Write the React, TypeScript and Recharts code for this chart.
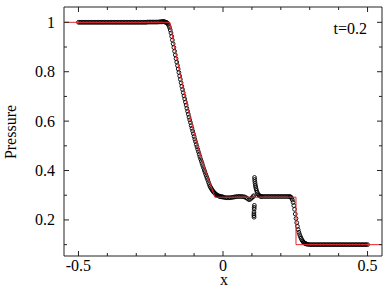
import { Scatter, ScatterChart, XAxis, YAxis } from "recharts";

const SERIF = "'Liberation Serif', 'DejaVu Serif', serif";
const FRAME = "#222";
const RED = "#e8262c";
const X_DOMAIN: [number, number] = [-0.55, 0.55];
const Y_DOMAIN: [number, number] = [0.054, 1.062];

const xMajorTicks = [-0.5, 0, 0.5];
const xMinorTicks = [-0.5, -0.4, -0.3, -0.2, -0.1, 0, 0.1, 0.2, 0.3, 0.4, 0.5];
const yMajorTicks = [0.2, 0.4, 0.6, 0.8, 1];
const yMinorTicks = [0.1, 0.2, 0.3, 0.4, 0.5, 0.6, 0.7, 0.8, 0.9, 1];

// exact Riemann solution (red line)
const exactSolution: [number, number][] = [
  [-0.55, 1], [-0.184, 1], [-0.168, 0.902], [-0.152, 0.81], [-0.136, 0.724],
  [-0.12, 0.644], [-0.104, 0.571], [-0.088, 0.503], [-0.072, 0.441],
  [-0.056, 0.385], [-0.042, 0.339], [-0.028, 0.292], [0.2525, 0.292],
  [0.2525, 0.1], [0.55, 0.1],
];

// numerical result (circles), split by region
const leftState: [number, number][] = [
  [-0.5, 1], [-0.495, 1], [-0.49, 1], [-0.485, 1], [-0.48, 1], [-0.475, 1],
  [-0.47, 1], [-0.465, 1], [-0.46, 1], [-0.455, 1], [-0.45, 1], [-0.445, 1],
  [-0.44, 1], [-0.435, 1], [-0.43, 1], [-0.425, 1], [-0.42, 1], [-0.415, 1],
  [-0.41, 1], [-0.405, 1], [-0.4, 1], [-0.395, 1], [-0.39, 1], [-0.385, 1],
  [-0.38, 1], [-0.375, 1], [-0.37, 1], [-0.365, 1], [-0.36, 1], [-0.355, 1],
  [-0.35, 1], [-0.345, 1], [-0.34, 1], [-0.335, 1], [-0.33, 1], [-0.325, 1],
  [-0.32, 1], [-0.315, 1], [-0.31, 1], [-0.305, 1], [-0.3, 1], [-0.295, 1],
  [-0.29, 1], [-0.285, 1], [-0.28, 1], [-0.275, 1], [-0.27, 1], [-0.265, 1],
  [-0.26, 1.001], [-0.255, 1.001], [-0.25, 1.001], [-0.245, 1.001], [-0.24, 1.001],
  [-0.235, 1.001], [-0.23, 1.001], [-0.225, 1.001], [-0.22, 1.002], [-0.215, 1.002],
];

const rarefaction: [number, number][] = [
  [-0.2125, 1.002], [-0.21, 1.002], [-0.2075, 1.003], [-0.205, 1.003],
  [-0.2025, 1.002], [-0.2, 1.001], [-0.1975, 1.0], [-0.195, 0.999],
  [-0.1925, 0.997], [-0.19, 0.993], [-0.1875, 0.987], [-0.185, 0.979],
  [-0.1825, 0.969], [-0.18, 0.957], [-0.1775, 0.943], [-0.175, 0.928],
  [-0.1725, 0.913], [-0.17, 0.898], [-0.1675, 0.883], [-0.165, 0.868],
  [-0.1625, 0.853], [-0.16, 0.839], [-0.1575, 0.825], [-0.155, 0.811],
  [-0.1525, 0.797], [-0.15, 0.783], [-0.1475, 0.769], [-0.145, 0.755],
  [-0.1425, 0.741], [-0.14, 0.728], [-0.1375, 0.715], [-0.135, 0.702],
  [-0.1325, 0.69], [-0.13, 0.677], [-0.1275, 0.665], [-0.125, 0.652],
  [-0.1225, 0.64], [-0.12, 0.628], [-0.1175, 0.616], [-0.115, 0.605],
  [-0.1125, 0.594], [-0.11, 0.582], [-0.1075, 0.571], [-0.105, 0.56],
  [-0.1025, 0.549], [-0.1, 0.538], [-0.0975, 0.527], [-0.095, 0.517],
  [-0.0925, 0.506], [-0.09, 0.496], [-0.0875, 0.486], [-0.085, 0.476],
  [-0.0825, 0.466], [-0.08, 0.456], [-0.0775, 0.447], [-0.075, 0.438],
  [-0.0725, 0.429], [-0.07, 0.42], [-0.0675, 0.411], [-0.065, 0.402],
  [-0.0625, 0.394], [-0.06, 0.385], [-0.0575, 0.377], [-0.055, 0.369],
  [-0.0525, 0.361], [-0.05, 0.352], [-0.0475, 0.344], [-0.045, 0.336],
  [-0.0425, 0.331], [-0.04, 0.326], [-0.0375, 0.321], [-0.035, 0.317],
  [-0.0325, 0.313], [-0.03, 0.31], [-0.0275, 0.307], [-0.025, 0.304],
  [-0.0225, 0.302], [-0.02, 0.3], [-0.0175, 0.298], [-0.015, 0.297],
  [-0.0125, 0.296], [-0.01, 0.295], [-0.0075, 0.294], [-0.005, 0.294],
  [-0.0025, 0.293],
];

const plateau: [number, number][] = [
  [0, 0.293], [0.005, 0.291], [0.01, 0.29], [0.015, 0.29], [0.02, 0.29],
  [0.025, 0.29], [0.03, 0.291], [0.035, 0.292], [0.04, 0.293], [0.045, 0.294],
  [0.05, 0.295], [0.055, 0.295], [0.06, 0.295], [0.065, 0.295], [0.07, 0.294],
  [0.075, 0.293], [0.08, 0.29], [0.085, 0.286], [0.09, 0.282], [0.095, 0.284],
  [0.1, 0.29], [0.1045, 0.294],
];

const contact: [number, number][] = [
  [0.106, 0.298], [0.109, 0.372], [0.1095, 0.364], [0.11, 0.356], [0.111, 0.348],
  [0.112, 0.34], [0.113, 0.333], [0.1145, 0.326], [0.116, 0.319], [0.118, 0.312],
  [0.12, 0.306], [0.123, 0.301], [0.126, 0.298], [0.129, 0.296], [0.132, 0.295],
  [0.1085, 0.259], [0.108, 0.251], [0.1078, 0.244], [0.1072, 0.232], [0.107, 0.224],
  [0.107, 0.217], [0.1075, 0.211],
];

const postShock: [number, number][] = [
  [0.135, 0.295], [0.14, 0.295], [0.145, 0.295], [0.15, 0.295], [0.155, 0.295],
  [0.16, 0.295], [0.165, 0.295], [0.17, 0.295], [0.175, 0.295], [0.18, 0.295],
  [0.185, 0.295], [0.19, 0.295], [0.195, 0.295], [0.2, 0.295], [0.205, 0.295],
  [0.21, 0.295], [0.215, 0.295], [0.22, 0.295], [0.225, 0.295], [0.23, 0.295],
];

const shockFront: [number, number][] = [
  [0.2325, 0.294], [0.235, 0.292], [0.2375, 0.288], [0.24, 0.281], [0.2425, 0.271],
  [0.245, 0.258], [0.2475, 0.243], [0.25, 0.224], [0.2525, 0.206], [0.255, 0.189],
  [0.2575, 0.174], [0.26, 0.161], [0.2625, 0.15], [0.265, 0.141], [0.2675, 0.133],
  [0.27, 0.126], [0.2725, 0.12], [0.275, 0.115], [0.2775, 0.111], [0.28, 0.108],
  [0.2825, 0.106], [0.285, 0.104], [0.2875, 0.103], [0.29, 0.102], [0.295, 0.101],
];

const rightState: [number, number][] = [
  [0.3, 0.1], [0.305, 0.1], [0.31, 0.1], [0.315, 0.1], [0.32, 0.1], [0.325, 0.1],
  [0.33, 0.1], [0.335, 0.1], [0.34, 0.1], [0.345, 0.1], [0.35, 0.1], [0.355, 0.1],
  [0.36, 0.1], [0.365, 0.1], [0.37, 0.1], [0.375, 0.1], [0.38, 0.1], [0.385, 0.1],
  [0.39, 0.1], [0.395, 0.1], [0.4, 0.1], [0.405, 0.1], [0.41, 0.1], [0.415, 0.1],
  [0.42, 0.1], [0.425, 0.1], [0.43, 0.1], [0.435, 0.1], [0.44, 0.1], [0.445, 0.1],
  [0.45, 0.1], [0.455, 0.1], [0.46, 0.1], [0.465, 0.1], [0.47, 0.1], [0.475, 0.1],
  [0.48, 0.1], [0.485, 0.1], [0.49, 0.1], [0.495, 0.1], [0.5, 0.1],
];

const toPoints = (rows: [number, number][]) => rows.map(([x, p]) => ({ x, p }));

const numericPoints = toPoints([
  ...leftState,
  ...rarefaction,
  ...plateau,
  ...contact,
  ...postShock,
  ...shockFront,
  ...rightState,
]);
const exactPoints = toPoints(exactSolution);

const ring = (props: any) => (
  <circle cx={props.cx} cy={props.cy} r={1.9} fill="none" stroke="#000" strokeWidth={0.9} />
);
const noMark = () => <g />;

const MAJOR_LEN = 5;
const MINOR_LEN = 3;
const isMajor = (v: number, majors: number[]) => majors.some((m) => Math.abs(m - v) < 1e-9);
const labelProps = { fill: "#000", fontSize: 16, fontFamily: SERIF };

// inward tick marks drawn by each axis's own tick renderer
const BottomTick = ({ x, y, payload }: any) => {
  const major = isMajor(payload.value, xMajorTicks);
  return (
    <g>
      <line x1={x} x2={x} y1={y} y2={y - (major ? MAJOR_LEN : MINOR_LEN)} stroke={FRAME} />
      {major && (
        <text x={x} y={y + 15} textAnchor="middle" {...labelProps}>
          {payload.value}
        </text>
      )}
    </g>
  );
};

const TopTick = ({ x, y, payload }: any) => {
  const major = isMajor(payload.value, xMajorTicks);
  return <line x1={x} x2={x} y1={y} y2={y + (major ? MAJOR_LEN : MINOR_LEN)} stroke={FRAME} />;
};

const LeftTick = ({ x, y, payload }: any) => {
  const major = isMajor(payload.value, yMajorTicks);
  return (
    <g>
      <line x1={x} x2={x + (major ? MAJOR_LEN : MINOR_LEN)} y1={y} y2={y} stroke={FRAME} />
      {major && (
        <text x={x - 9} y={y + 5.5} textAnchor="end" {...labelProps}>
          {payload.value}
        </text>
      )}
    </g>
  );
};

const RightTick = ({ x, y, payload }: any) => {
  const major = isMajor(payload.value, yMajorTicks);
  return <line x1={x} x2={x - (major ? MAJOR_LEN : MINOR_LEN)} y1={y} y2={y} stroke={FRAME} />;
};

const textStyle: React.CSSProperties = {
  position: "absolute",
  fontFamily: SERIF,
  fontSize: 16,
  lineHeight: "16px",
  color: "#000",
  whiteSpace: "nowrap",
};

const axisCommon = {
  type: "number" as const,
  allowDataOverflow: true,
  interval: 0 as const,
  tickLine: false,
  tickSize: 0,
  tickMargin: 0,
  axisLine: { stroke: FRAME },
};

export default function App() {
  return (
    <div
      style={{
        position: "absolute",
        left: 0,
        top: 0,
        width: 390,
        height: 293,
        background: "#fff",
      }}
    >
      <ScatterChart width={390} height={293} margin={{ top: 0, right: 0, bottom: 0, left: 0 }}>
        <XAxis {...axisCommon} xAxisId="x" dataKey="x" domain={X_DOMAIN} orientation="bottom" height={37} ticks={xMinorTicks} tick={BottomTick} />
        <XAxis {...axisCommon} xAxisId="xt" dataKey="x" domain={X_DOMAIN} orientation="top" height={7} ticks={xMinorTicks} tick={TopTick} />
        <YAxis {...axisCommon} yAxisId="y" dataKey="p" domain={Y_DOMAIN} orientation="left" width={64} ticks={yMinorTicks} tick={LeftTick} />
        <YAxis {...axisCommon} yAxisId="yr" dataKey="p" domain={Y_DOMAIN} orientation="right" width={8} ticks={yMinorTicks} tick={RightTick} />

        {/* keeps the top and right frame axes bound to a series */}
        <Scatter xAxisId="xt" yAxisId="yr" data={exactPoints} shape={noMark} isAnimationActive={false} />

        <Scatter
          xAxisId="x"
          yAxisId="y"
          data={numericPoints}
          shape={ring}
          isAnimationActive={false}
        />
        <Scatter
          xAxisId="x"
          yAxisId="y"
          data={exactPoints}
          line={{ stroke: RED, strokeWidth: 1 }}
          lineType="joint"
          shape={noMark}
          isAnimationActive={false}
        />
      </ScatterChart>
      <div style={{ ...textStyle, top: 21, left: 0, width: 367, textAlign: "right" }}>t=0.2</div>
      <div style={{ ...textStyle, top: 274, left: 204, width: 40, lineHeight: "12px", textAlign: "center" }}>x</div>
      <div
        style={{
          ...textStyle,
          top: 123.5,
          left: -29,
          width: 80,
          height: 16,
          textAlign: "center",
          transform: "rotate(-90deg)",
        }}
      >
        Pressure
      </div>
    </div>
  );
}
